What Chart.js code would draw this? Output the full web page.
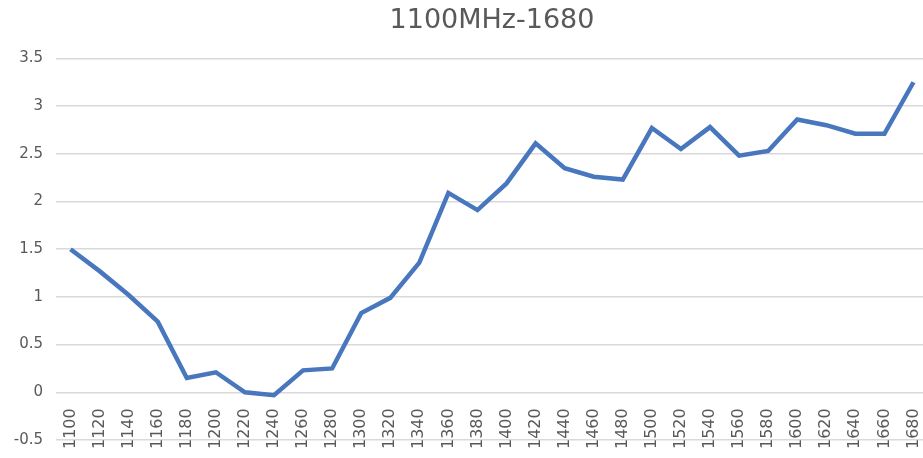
<!DOCTYPE html>
<html><head><meta charset="utf-8">
<script src="https://cdn.jsdelivr.net/npm/chart.js@4"></script>
<style>html,body{margin:0;padding:0;overflow:hidden;background:#fff}#wrap{width:928px;height:458px;position:relative}</style>
</head><body><div id="wrap"><canvas id="c"></canvas></div>
<script>
const titleText = '1100MHz-1680';
const categories = ['1100','1120','1140','1160','1180','1200','1220','1240','1260','1280','1300','1320','1340','1360','1380','1400','1420','1440','1460','1480','1500','1520','1540','1560','1580','1600','1620','1640','1660','1680'];
const values = [1.50,1.27,1.02,0.74,0.15,0.21,0.00,-0.03,0.23,0.25,0.83,0.99,1.36,2.09,1.91,2.19,2.61,2.35,2.26,2.23,2.77,2.55,2.78,2.48,2.53,2.86,2.80,2.71,2.71,3.25];
const yTickValues = [-0.5,0,0.5,1,1.5,2,2.5,3,3.5];
const yTickLabels = ['-0.5','0','0.5','1','1.5','2','2.5','3','3.5'];

const grey = '#595959';
new Chart(document.getElementById('c'), {
  type: 'line',
  data: {
    labels: categories,
    datasets: [{
      data: values,
      borderColor: '#4877be',
      borderWidth: 4.5,
      pointRadius: 0,
      pointHoverRadius: 0,
      tension: 0,
      fill: false
    }]
  },
  options: {
    responsive: true,
    maintainAspectRatio: false,
    animation: false,
    layout: { padding: { top: 0, right: 0, bottom: 18, left: 0 } },
    plugins: {
      legend: { display: false },
      tooltip: { enabled: false },
      title: {
        display: true,
        text: titleText,
        fullSize: false,
        color: grey,
        font: { family: 'DejaVu Sans', size: 27, weight: 'normal' },
        padding: { top: 5, bottom: 21 }
      }
    },
    scales: {
      x: {
        type: 'category',
        position: { y: 0 },
        offset: true,
        grid: { display: false, drawTicks: false },
        border: { display: false },
        afterFit(scale) { scale.paddingLeft = 0; scale.paddingRight = 0; },
        ticks: {
          autoSkip: false,
          maxRotation: 90,
          minRotation: 90,
          padding: 16,
          color: grey,
          font: { family: 'DejaVu Sans', size: 16 }
        }
      },
      y: {
        min: -0.5,
        max: 3.5,
        grid: { color: '#d9d9d9', lineWidth: 1.5, drawTicks: false },
        border: { display: false },
        afterFit(scale) { scale.width = 56; scale.paddingTop = 0; scale.paddingBottom = 0; },
        afterBuildTicks(scale) { scale.ticks = yTickValues.map(v => ({ value: v })); },
        ticks: {
          padding: 13,
          color: grey,
          font: { family: 'DejaVu Sans', size: 15 },
          callback(value) {
            const i = yTickValues.indexOf(value);
            return i >= 0 ? yTickLabels[i] : '';
          }
        }
      }
    }
  }
});
</script>
</body></html>
